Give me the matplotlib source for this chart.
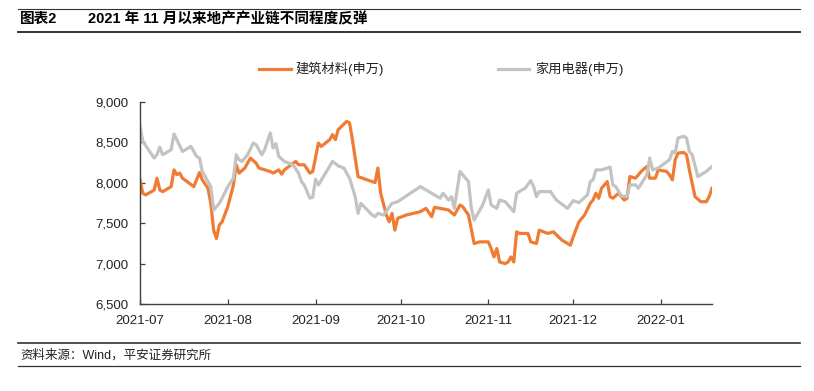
import matplotlib.pyplot as plt
import matplotlib.dates as mdates
from matplotlib.lines import Line2D
from matplotlib.ticker import FuncFormatter
import pandas as pd

plt.rcParams['font.family'] = ['Liberation Sans', 'Noto Sans CJK SC', 'DejaVu Sans']

fig_no = '图表2'
title = '2021 年 11 月以来地产产业链不同程度反弹'
source = '资料来源：Wind，平安证券研究所'
series_names = ['建筑材料(申万)', '家用电器(申万)']

# 建筑材料(申万)
bm_dates = [
    '2021-07-01', '2021-07-02', '2021-07-03', '2021-07-06', '2021-07-07', '2021-07-08', '2021-07-09',
    '2021-07-12', '2021-07-13', '2021-07-14', '2021-07-15', '2021-07-16', '2021-07-20', '2021-07-22',
    '2021-07-23', '2021-07-25', '2021-07-26', '2021-07-27', '2021-07-28', '2021-07-29', '2021-07-30',
    '2021-08-01', '2021-08-03', '2021-08-04', '2021-08-05', '2021-08-07', '2021-08-09', '2021-08-11',
    '2021-08-12', '2021-08-16', '2021-08-17', '2021-08-19', '2021-08-20', '2021-08-21', '2021-08-25',
    '2021-08-26', '2021-08-28', '2021-08-30', '2021-08-31',
    '2021-09-02', '2021-09-03', '2021-09-06', '2021-09-07', '2021-09-08', '2021-09-09', '2021-09-12',
    '2021-09-13', '2021-09-14', '2021-09-16', '2021-09-21', '2021-09-22', '2021-09-23', '2021-09-24',
    '2021-09-26', '2021-09-27', '2021-09-28', '2021-09-29', '2021-09-30',
    '2021-10-03', '2021-10-08', '2021-10-10', '2021-10-12', '2021-10-13', '2021-10-15', '2021-10-18',
    '2021-10-20', '2021-10-22', '2021-10-23', '2021-10-25', '2021-10-27', '2021-10-29',
    '2021-11-01', '2021-11-02', '2021-11-03', '2021-11-04', '2021-11-05', '2021-11-07', '2021-11-08',
    '2021-11-09', '2021-11-10', '2021-11-11', '2021-11-12', '2021-11-15', '2021-11-16', '2021-11-18',
    '2021-11-19', '2021-11-22', '2021-11-24', '2021-11-27', '2021-11-30',
    '2021-12-01', '2021-12-03', '2021-12-05', '2021-12-07', '2021-12-08', '2021-12-09', '2021-12-10',
    '2021-12-11', '2021-12-13', '2021-12-14', '2021-12-15', '2021-12-17', '2021-12-19', '2021-12-20',
    '2021-12-21', '2021-12-23', '2021-12-25', '2021-12-27', '2021-12-28', '2021-12-30', '2021-12-31',
    '2022-01-03', '2022-01-04', '2022-01-05', '2022-01-06', '2022-01-07', '2022-01-09', '2022-01-10',
    '2022-01-11', '2022-01-13', '2022-01-15', '2022-01-17', '2022-01-18', '2022-01-19',
]
bm_values = [
    8036, 7870, 7850, 7910, 8057, 7910, 7890, 7953, 8160, 8100, 8120, 8057, 7953, 8127,
    8036, 7933, 7746, 7414, 7311, 7476, 7517,
    7704, 7974, 8223, 8120, 8182, 8306, 8244, 8182, 8140, 8120, 8160, 8107, 8160, 8265,
    8223, 8223, 8120, 8140,
    8492, 8450, 8534, 8596, 8534, 8658, 8761, 8741, 8534, 8077, 8015, 8003, 8182, 7871,
    7601, 7517, 7622, 7414, 7560,
    7601, 7642, 7684, 7580, 7696, 7684, 7663, 7601, 7725, 7704, 7601, 7249, 7269,
    7269, 7187, 7083, 7187, 7020, 7000, 7020, 7083, 7020, 7393, 7373, 7373, 7269, 7249,
    7414, 7373, 7393, 7290, 7228,
    7331, 7517, 7601, 7746, 7787, 7871, 7809, 7933, 8015, 7829, 7809, 7871, 7787, 7809,
    8077, 8057, 8140, 8202, 8057, 8057, 8160,
    8140, 8098, 8036, 8285, 8368, 8376, 8347, 8160, 7829, 7766, 7766, 7829, 7933,
]

# 家用电器(申万)
ha_dates = [
    '2021-07-01', '2021-07-02', '2021-07-04', '2021-07-06', '2021-07-07', '2021-07-08', '2021-07-09',
    '2021-07-12', '2021-07-13', '2021-07-14', '2021-07-16', '2021-07-19', '2021-07-21', '2021-07-22',
    '2021-07-23', '2021-07-26', '2021-07-27', '2021-07-29', '2021-07-30',
    '2021-08-01', '2021-08-03', '2021-08-04', '2021-08-05', '2021-08-06', '2021-08-08', '2021-08-10',
    '2021-08-11', '2021-08-13', '2021-08-14', '2021-08-16', '2021-08-17', '2021-08-18', '2021-08-19',
    '2021-08-21', '2021-08-24', '2021-08-26', '2021-08-27', '2021-08-28', '2021-08-30', '2021-08-31',
    '2021-09-01', '2021-09-02', '2021-09-07', '2021-09-09', '2021-09-11', '2021-09-13', '2021-09-15',
    '2021-09-16', '2021-09-17', '2021-09-21', '2021-09-22', '2021-09-23', '2021-09-25', '2021-09-28',
    '2021-09-30',
    '2021-10-08', '2021-10-13', '2021-10-15', '2021-10-16', '2021-10-18', '2021-10-19', '2021-10-20',
    '2021-10-21', '2021-10-22', '2021-10-25', '2021-10-26', '2021-10-27', '2021-10-30',
    '2021-11-01', '2021-11-02', '2021-11-04', '2021-11-05', '2021-11-07', '2021-11-10', '2021-11-11',
    '2021-11-14', '2021-11-16', '2021-11-17', '2021-11-18', '2021-11-19', '2021-11-23', '2021-11-25',
    '2021-11-29',
    '2021-12-01', '2021-12-03', '2021-12-06', '2021-12-07', '2021-12-08', '2021-12-09', '2021-12-11',
    '2021-12-14', '2021-12-15', '2021-12-16', '2021-12-18', '2021-12-20', '2021-12-21', '2021-12-23',
    '2021-12-24', '2021-12-27', '2021-12-28', '2021-12-29', '2021-12-31',
    '2022-01-04', '2022-01-05', '2022-01-06', '2022-01-07', '2022-01-09', '2022-01-10', '2022-01-11',
    '2022-01-12', '2022-01-14', '2022-01-17', '2022-01-19',
]
ha_values = [
    8699, 8512, 8409, 8306, 8347, 8441, 8347, 8409, 8604, 8534, 8388, 8450, 8326, 8306,
    8140, 7953, 7663, 7746, 7809,
    7953, 8057, 8347, 8285, 8264, 8347, 8492, 8472, 8347, 8409, 8617, 8430, 8484, 8326,
    8264, 8223, 8120, 8015, 7974, 7809, 7822,
    8045, 7974, 8264, 8210, 8182, 8057, 7829, 7622, 7746, 7601, 7580, 7622, 7601, 7746,
    7766,
    7953, 7850, 7809, 7871, 7787, 7829, 7684, 7912, 8140, 8015, 7684, 7539, 7725,
    7912, 7725, 7684, 7787, 7766, 7642, 7871, 7933, 8027, 7953, 7829, 7891, 7891, 7787,
    7684,
    7779, 7754, 7850, 8015, 8036, 8160, 8160, 8194, 7974, 7953, 7837, 7829, 7974, 7974,
    7933, 8098, 8306, 8160, 8182,
    8285, 8388, 8368, 8555, 8575, 8555, 8388, 8347, 8077, 8140, 8202,
]

y_min, y_max = 6500, 9000
y_step = 500

fig = plt.figure(figsize=(8.14, 3.91), dpi=100)
ax = fig.add_axes([140 / 814, 1 - 304 / 391, 572 / 814, 202 / 391])

ax.plot(pd.to_datetime(bm_dates), bm_values, color='#F07C33', lw=2.3,
        solid_joinstyle='round', label=series_names[0])
ax.plot(pd.to_datetime(ha_dates), ha_values, color='#C3C3C3', lw=2.3,
        solid_joinstyle='round', label=series_names[1])

ax.set_xlim(pd.Timestamp('2021-07-01'), pd.Timestamp('2022-01-19'))
ax.set_ylim(y_min, y_max)
ax.set_yticks(range(y_min, y_max + 1, y_step))
ax.yaxis.set_major_formatter(FuncFormatter(lambda v, p: f'{int(v):,}'))
ax.xaxis.set_major_locator(mdates.MonthLocator())
ax.xaxis.set_major_formatter(mdates.DateFormatter('%Y-%m'))

for s in ['top', 'right']:
    ax.spines[s].set_visible(False)
for s in ['left', 'bottom']:
    ax.spines[s].set_color('#404040')
    ax.spines[s].set_linewidth(1.0)
ax.tick_params(axis='both', direction='in', length=3.5, width=0.9, color='#404040',
               labelsize=9.5, labelcolor='#222222')
ax.tick_params(axis='x', pad=8)
ax.tick_params(axis='y', pad=8)

leg = fig.legend(loc='center', bbox_to_anchor=(441 / 814, 1 - 69 / 391), ncol=2,
                 frameon=False, fontsize=9.5, handlelength=2.4, handletextpad=0.4,
                 columnspacing=8.6)
for t in leg.get_texts():
    t.set_color('#222222')

# title and source bands
fig.text(20 / 814, 1 - 19 / 391, fig_no, fontsize=10.5, fontweight='bold', va='center')
fig.text(88 / 814, 1 - 19 / 391, title, fontsize=10.5, fontweight='bold', va='center')
fig.text(20 / 814, 1 - 355 / 391, source, fontsize=9, va='center', color='#222222')

for yy, lw in [(9, 0.8), (32, 1.4), (343, 1.2), (366, 0.9)]:
    fig.add_artist(Line2D([18 / 814, 800 / 814], [1 - yy / 391] * 2,
                          transform=fig.transFigure, color='#333333', lw=lw))

fig.savefig('out.png', dpi=100)
